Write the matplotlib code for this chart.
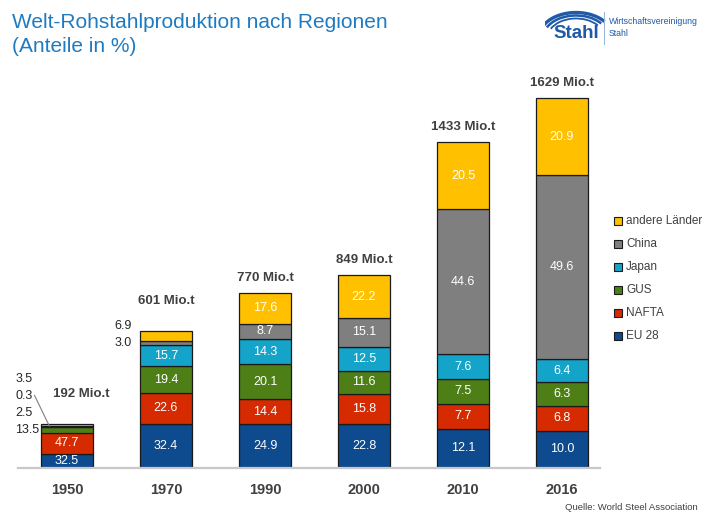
import matplotlib
matplotlib.use("Agg")
import matplotlib.pyplot as plt
import numpy as np
from matplotlib.patches import Rectangle, Arc

plt.rcParams['font.family'] = ['Liberation Sans', 'DejaVu Sans']

years = ["1950", "1970", "1990", "2000", "2010", "2016"]
totals = [192, 601, 770, 849, 1433, 1629]
regions = ["EU 28", "NAFTA", "GUS", "Japan", "China", "andere Länder"]
eu28 = [32.5, 32.4, 24.9, 22.8, 12.1, 10.0]
nafta = [47.7, 22.6, 14.4, 15.8, 7.7, 6.8]
gus = [13.5, 19.4, 20.1, 11.6, 7.5, 6.3]
japan = [2.5, 15.7, 14.3, 12.5, 7.6, 6.4]
china = [0.3, 3.0, 8.7, 15.1, 44.6, 49.6]
andere = [3.5, 6.9, 17.6, 22.2, 20.5, 20.9]
shares = [eu28, nafta, gus, japan, china, andere]
colors = ["#0D4A8E", "#D62A00", "#4E7F17", "#14A3C9", "#7F7F7F", "#FFC000"]

W, H = 705, 512
fig = plt.figure(figsize=(W / 100, H / 100), dpi=100)
fig.patch.set_facecolor("white")

# axes in pixel layout
left_px, right_px = 17.5, 611.5
bottom_px, top_px = 468, 59
ax = fig.add_axes([left_px / W, (H - bottom_px) / H, (right_px - left_px) / W, (bottom_px - top_px) / H])
ax.set_xlim(-0.5, 5.5)
ax.set_ylim(0, 1800)
ax.axis("off")

x = np.arange(len(years))
bw = 0.535
small_thresh = 50  # Mt: segments smaller than this are labelled outside

bottoms = np.zeros(len(years))
for s, col in zip(shares, colors):
    vals = np.array(s) / 100.0 * np.array(totals)
    ax.bar(x, vals, bw, bottom=bottoms, color=col, edgecolor="#1a1a1a", linewidth=0.9, zorder=3)
    for i in range(len(years)):
        if vals[i] >= small_thresh:
            ax.text(x[i], bottoms[i] + vals[i] / 2, f"{s[i]:.1f}", ha="center", va="center",
                    color="white", fontsize=9, zorder=4)
    bottoms += vals

# outside labels
for i in range(len(years)):
    cum = 0.0
    outs = []
    for s in shares:
        v = s[i] / 100.0 * totals[i]
        if v < small_thresh:
            outs.append((s[i], cum + v / 2))
        cum += v
    if not outs:
        continue
    base_y = outs[0][1]
    for k, (val, yc) in enumerate(outs):
        ax.annotate(f"{val:.1f}", xy=(x[i] - bw / 2, base_y), xytext=(-25, 17 * k),
                    textcoords="offset pixels", ha="left", va="center", fontsize=9,
                    color="#262626", zorder=5)
    if i == 0:
        # leader line for the tiny China share
        ax.annotate("", xy=(x[i] - bw / 2 + 0.09, totals[i] - 8), xytext=(-15, 17 * 2 - 3),
                    textcoords="offset pixels", xycoords="data",
                    arrowprops=dict(arrowstyle="-", color="#808080", lw=0.8,
                                    shrinkA=0, shrinkB=0))

# totals
for i in range(len(years)):
    has_out = any(s[i] / 100.0 * totals[i] < small_thresh for s in shares)
    dy = 30 if has_out else 15
    dx = 14 if i == 0 else 0
    ax.annotate(f"{totals[i]} Mio.t", xy=(x[i], totals[i]), xytext=(dx, dy),
                textcoords="offset pixels", ha="center", va="center", fontsize=9.5,
                fontweight="bold", color="#404040")

# year labels
for i in range(len(years)):
    ax.annotate(years[i], xy=(x[i], 0), xytext=(0, -22), textcoords="offset pixels",
                ha="center", va="center", fontsize=10.5, fontweight="bold", color="#404040",
                annotation_clip=False)

# baseline
fig.add_artist(plt.Line2D([18 / W, 600 / W], [(H - 468) / H] * 2, color="#C8C8C8", lw=1.6))

# legend
for k, (name, col) in enumerate(zip(regions[::-1], colors[::-1])):
    ypx = 221 + 23 * k
    fig.add_artist(Rectangle((614 / W, (H - ypx - 4) / H), 8 / W, 8 / H, facecolor=col,
                             edgecolor="#1a1a1a", lw=0.8, transform=fig.transFigure))
    fig.text(626 / W, (H - ypx) / H, name, ha="left", va="center", fontsize=8.5, color="#404040")

# title
title_col = "#1F7BC1"
fig.text(12 / W, (H - 22) / H, "Welt-Rohstahlproduktion nach Regionen", ha="left", va="center",
         fontsize=15, color=title_col)
fig.text(12 / W, (H - 47) / H, "(Anteile in %)", ha="left", va="center", fontsize=15, color=title_col)

# logo
logo_col = "#1E5AA8"
lax = fig.add_axes([545 / W, (H - 48) / H, 160 / W, 42 / H])
lax.set_xlim(545, 705)
lax.set_ylim(48, 6)
lax.axis("off")
for r, lw in [(34, 2.4), (30, 1.8), (26, 1.3)]:
    lax.add_patch(Arc((576, 38), 2 * r * 1.1, 2 * r * 0.75, theta1=200, theta2=330,
                      color=logo_col, lw=lw))
lax.text(576, 34, "Stahl", ha="center", va="center", fontsize=13.5, fontweight="bold", color=logo_col)
lax.plot([604, 604], [12, 44], color="#9BB8DA", lw=0.8)
lax.text(609, 22, "Wirtschaftsvereinigung", ha="left", va="center", fontsize=6.3, color=logo_col)
lax.text(609, 34, "Stahl", ha="left", va="center", fontsize=6.3, color=logo_col)

# source
fig.text(698 / W, (H - 507) / H, "Quelle: World Steel Association", ha="right", va="center",
         fontsize=6.8, color="#404040")

fig.savefig("out.png", dpi=100)
